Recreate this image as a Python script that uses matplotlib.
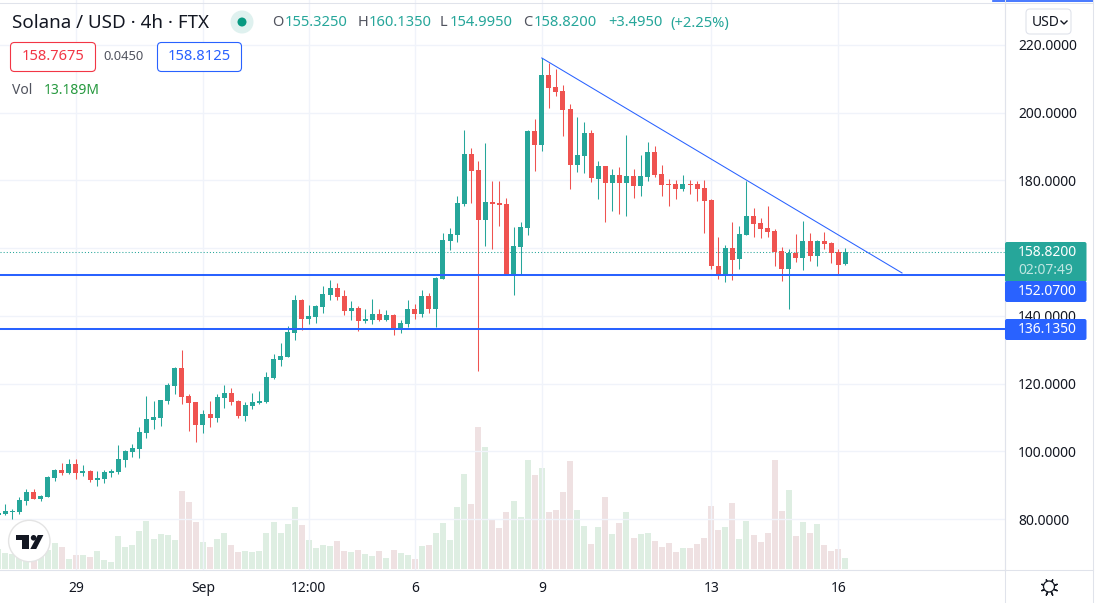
import matplotlib
matplotlib.use("Agg")
import matplotlib.pyplot as plt
from matplotlib.patches import Circle, FancyBboxPatch, Polygon, Rectangle

plt.rcParams['font.family'] = ['Noto Sans', 'DejaVu Sans']

# candles, 4h, oldest first
opens = [81.16, 81.46, 82.05, 82.15, 85.39, 88.05, 86.08, 86.57, 92.18, 94.54,
         93.66, 96.32, 93.66, 94.25, 91.59, 91.89, 93.66, 93.95, 97.50, 99.86,
         100.74, 105.47, 109.30, 109.89, 114.91, 119.34, 124.65, 116.39, 114.62, 107.83,
         111.08, 109.89, 115.80, 117.27, 114.91, 110.48, 113.44, 114.32, 114.62, 121.60,
         127.01, 127.90, 134.98, 144.72, 139.11, 139.71, 142.66, 146.20, 148.27, 145.90,
         141.48, 142.36, 138.52, 138.82, 140.59, 138.82, 140.30, 136.16, 137.64, 142.07,
         140.59, 145.90, 142.07, 150.92, 162.14, 163.91, 173.06, 187.82, 183.10, 168.34,
         173.65, 173.36, 173.06, 152.10, 160.37, 165.98, 194.61, 190.48, 211.14, 207.60,
         206.42, 201.10, 184.57, 187.23, 194.02, 180.44, 184.28, 179.26, 181.62, 179.26,
         181.32, 178.37, 181.03, 188.41, 181.92, 178.96, 178.96, 177.49, 178.96, 178.96,
         177.79, 174.24, 154.76, 152.40, 160.07, 156.83, 163.91, 169.52, 167.45, 165.98,
         165.09, 159.19, 153.87, 158.60, 157.12, 162.14, 157.71, 162.14, 161.55, 158.89,
         155.33]
closes = [81.95, 82.44, 82.34, 85.69, 88.05, 86.08, 86.87, 92.48, 94.54, 93.66,
          96.32, 93.66, 94.25, 91.59, 92.18, 93.95, 94.25, 97.79, 100.15, 101.04,
          105.76, 109.60, 110.19, 115.21, 119.64, 124.65, 116.09, 114.32, 107.83, 111.08,
          109.89, 116.09, 117.27, 114.62, 110.48, 113.73, 114.62, 114.91, 122.00, 127.31,
          128.19, 135.28, 144.72, 139.11, 140.00, 142.95, 146.49, 148.27, 145.61, 141.48,
          142.36, 138.52, 139.11, 140.59, 138.82, 140.30, 136.16, 137.93, 142.07, 140.59,
          145.90, 142.07, 151.22, 162.44, 164.21, 173.36, 187.82, 182.80, 168.34, 173.65,
          173.06, 172.77, 152.10, 160.66, 166.27, 194.61, 190.48, 211.14, 207.30, 206.12,
          200.81, 184.57, 187.52, 194.02, 180.73, 184.28, 179.26, 181.62, 179.26, 181.32,
          178.37, 181.32, 188.41, 181.62, 178.67, 178.67, 177.49, 178.96, 178.67, 177.49,
          173.95, 154.76, 152.40, 160.07, 156.53, 164.21, 169.52, 167.16, 165.68, 164.80,
          158.89, 153.87, 158.60, 157.12, 162.14, 157.71, 162.14, 161.26, 158.60, 155.06,
          158.82]
highs = [82.54, 84.51, 82.93, 86.48, 88.94, 88.94, 87.16, 92.77, 94.84, 96.61,
         97.79, 97.79, 96.02, 94.54, 94.25, 94.54, 94.84, 101.92, 100.45, 102.22,
         107.24, 116.39, 114.91, 115.21, 120.23, 124.95, 129.97, 116.98, 114.62, 112.26,
         114.91, 116.98, 119.64, 118.75, 115.21, 114.62, 117.27, 117.86, 123.47, 128.78,
         132.03, 137.05, 146.20, 145.02, 143.25, 143.25, 148.86, 150.63, 149.74, 147.68,
         144.43, 142.95, 142.07, 145.02, 142.07, 141.77, 140.59, 138.82, 144.72, 143.54,
         147.68, 146.79, 151.51, 164.50, 165.98, 175.42, 194.91, 189.59, 185.76, 191.07,
         179.85, 179.85, 174.83, 166.27, 167.75, 194.91, 198.15, 216.16, 214.68, 212.91,
         208.19, 202.58, 198.74, 197.27, 194.90, 185.75, 184.28, 183.39, 183.98, 193.43,
         183.39, 187.52, 191.36, 190.18, 184.57, 180.44, 180.14, 181.62, 180.14, 179.85,
         180.15, 174.54, 163.32, 160.96, 167.75, 166.57, 179.85, 171.88, 168.93, 172.47,
         165.68, 160.37, 159.78, 164.21, 168.04, 164.50, 162.44, 164.80, 161.85, 159.78,
         160.14]
lows = [80.77, 81.26, 80.08, 81.65, 84.21, 86.08, 85.39, 86.57, 91.30, 93.07,
        93.36, 91.89, 92.77, 91.00, 89.82, 90.71, 92.48, 93.36, 95.43, 98.38,
        98.09, 103.99, 106.65, 107.53, 114.03, 116.98, 114.03, 106.06, 102.81, 105.47,
        107.24, 108.71, 112.85, 113.73, 109.89, 109.01, 112.55, 114.03, 114.32, 121.30,
        125.24, 127.90, 132.92, 135.87, 137.64, 137.93, 140.89, 144.72, 144.72, 140.30,
        138.82, 135.57, 137.93, 137.64, 138.52, 138.52, 134.39, 134.98, 136.75, 139.11,
        139.71, 140.89, 136.75, 150.92, 159.48, 161.85, 172.47, 173.36, 123.76, 160.66,
        159.78, 166.57, 152.10, 146.20, 152.10, 163.91, 182.80, 188.70, 201.40, 204.94,
        193.13, 177.49, 182.50, 182.21, 179.55, 174.54, 167.75, 171.00, 170.11, 169.52,
        174.83, 175.42, 179.85, 181.03, 175.42, 172.47, 174.54, 176.90, 176.01, 173.95,
        164.50, 153.87, 150.92, 150.04, 150.63, 153.87, 163.91, 163.32, 163.03, 163.32,
        154.76, 150.33, 142.07, 155.94, 153.58, 156.24, 154.76, 159.78, 155.65, 152.10,
        155.00]
# volume in millions
volumes = [23.6, 18.8, 18.0, 24.0, 22.0, 14.0, 16.0, 22.8, 31.2, 26.4,
           12.0, 16.8, 16.8, 14.4, 21.6, 10.8, 8.4, 39.6, 26.4, 28.8,
           45.6, 57.6, 36.0, 42.0, 40.8, 34.8, 93.6, 80.4, 56.4, 32.4,
           26.4, 36.0, 43.2, 28.8, 20.4, 21.6, 20.4, 21.6, 43.2, 56.4,
           43.2, 54.0, 74.4, 52.8, 34.8, 25.2, 28.8, 27.6, 33.6, 21.6,
           20.4, 22.8, 18.0, 15.6, 21.6, 13.2, 22.8, 19.2, 16.8, 12.0,
           27.6, 28.8, 43.2, 55.2, 34.8, 74.4, 114.0, 78.0, 170.4, 146.4,
           58.8, 49.2, 68.4, 81.6, 62.4, 130.8, 112.8, 121.2, 68.4, 70.8,
           92.4, 129.6, 70.8, 51.6, 30.0, 50.4, 86.4, 42.0, 55.2, 68.4,
           37.2, 42.0, 43.2, 33.6, 26.4, 31.2, 20.4, 25.2, 25.2, 30.0,
           37.2, 75.6, 46.8, 50.4, 79.2, 36.0, 57.6, 40.8, 32.4, 43.2,
           130.8, 69.6, 94.8, 39.6, 56.4, 43.2, 54.0, 28.8, 21.6, 24.0,
           13.2]

tick_pos = [11, 29, 44, 59, 77, 101, 119]
tick_labels = ['29', 'Sep', '12:00', '6', '9', '13', '16']
price_ticks = [80, 100, 120, 140, 160, 180, 200, 220]
# the 160 label sits behind the last price tag in the original, only its gridline shows
hidden_price_labels = [160]

support_levels = [152.07, 136.135]
last_close = 158.82
trend_x = [77, 128.03]
trend_y = [216.16, 152.7]

green = '#26a69a'
red = '#ef5350'
blue = '#2962ff'
grid_c = '#f0f3fa'
text_c = '#131722'

W, H = 1095, 603
PANE_R, PANE_B = 1005, 570
fig = plt.figure(figsize=(W / 100, H / 100), dpi=100, facecolor='white')

x_per_bar = 7.059
xlim = (1 - 5.3 / x_per_bar, 1 + (PANE_R - 5.3) / x_per_bar)

# volume pane sits under the candles
ax_v = fig.add_axes([0, (H - 569) / H, PANE_R / W, 569 / H])
vol_colors = ['#deeee2' if c >= o else '#efe1e2' for o, c in zip(opens, closes)]
ax_v.bar(range(len(volumes)), volumes, width=0.85, color=vol_colors, linewidth=0)
ax_v.set_xlim(xlim)
ax_v.set_ylim(0, 682.8)
ax_v.axis('off')

ax = fig.add_axes([0, (H - PANE_B) / H, PANE_R / W, PANE_B / H])
ax.patch.set_alpha(0)
ax.set_xlim(xlim)
ax.set_ylim(65.0, 233.28)
for s in ['top', 'left']:
    ax.spines[s].set_visible(False)
ax.spines['right'].set_color('#e0e3eb')
ax.spines['bottom'].set_color('#e0e3eb')
ax.yaxis.tick_right()
ax.set_yticks(price_ticks)
ax.set_yticklabels(['' if p in hidden_price_labels else f'{p:.4f}' for p in price_ticks])
ax.set_xticks(tick_pos)
ax.set_xticklabels(tick_labels)
ax.tick_params(axis='y', length=0, pad=9.5, labelsize=10, labelcolor=text_c)
ax.tick_params(axis='x', length=0, pad=8, labelsize=10, labelcolor=text_c)
ax.get_xticklabels()[1].set_fontweight('semibold')
ax.grid(True, color=grid_c, linewidth=1.0)
ax.set_axisbelow(True)

x = list(range(len(opens)))
colors = [green if c >= o else red for o, c in zip(opens, closes)]
ax.axhline(last_close, color=green, linewidth=0.75, linestyle=(0, (1, 2)), zorder=1.5)
ax.vlines(x, lows, highs, color=colors, linewidth=0.75, zorder=2)
bottoms = [min(o, c) for o, c in zip(opens, closes)]
heights = [max(abs(c - o), 0.3) for o, c in zip(opens, closes)]
ax.bar(x, heights, bottom=bottoms, width=0.71, color=colors, linewidth=0, zorder=2.5)
for level in support_levels:
    ax.axhline(level, color=blue, linewidth=1.45, zorder=3)
ax.plot(trend_x, trend_y, color=blue, linewidth=0.75, zorder=3)

# overlay for the toolbar bits, in pixels from the top left
ui = fig.add_axes([0, 0, 1, 1])
ui.set_xlim(0, W)
ui.set_ylim(H, 0)
ui.axis('off')
ui.patch.set_alpha(0)


def box(x0, y0, x1, y1, **kw):
    p = FancyBboxPatch((x0, y0), x1 - x0, y1 - y0, boxstyle='round,pad=0,rounding_size=4', **kw)
    ui.add_patch(p)


def label(x0, y0, s, color=text_c, size=10, ha='left', **kw):
    ui.text(x0, y0, s, color=color, fontsize=size, ha=ha, va='center', **kw)


ui.plot([0, 1093], [2.5, 2.5], color='#e0e3eb', linewidth=0.75)
ui.plot([993, 1093], [0.7, 0.7], color=blue, linewidth=1.2)
ui.plot([PANE_R, PANE_R], [0, H], color='#e0e3eb', linewidth=0.75)
ui.plot([PANE_R, 1093], [570, 570], color='#e0e3eb', linewidth=0.75)
ui.plot([1093, 1093], [0, H], color='#e0e3eb', linewidth=0.75)

# header
label(12, 22.5, 'Solana / USD \u00b7 4h \u00b7 FTX', size=13.5)
ui.add_patch(Circle((242, 22), 11.5, color='#dff1ef', linewidth=0))
ui.add_patch(Circle((242, 22), 4.5, color='#089981', linewidth=0))
for px, s in [(272, 'O'), (358, 'H'), (440, 'L'), (523, 'C')]:
    label(px, 23, s, color='#50535e', size=10.5)
for px, s in [(285, '155.3250'), (369, '160.1350'), (450, '154.9950'), (534, '158.8200'),
              (608, '+3.4950'), (670, '(+2.25%)')]:
    label(px, 23, s, color=green, size=10.6)

box(10.5, 42.5, 95.5, 71.5, facecolor='white', edgecolor='#f23645', linewidth=0.8)
label(53, 57, '158.7675', color='#f23645', size=10.6, ha='center')
label(123, 57, '0.0450', color='#50535e', size=9.3, ha='center')
box(157.5, 42.5, 241.5, 71.5, facecolor='white', edgecolor=blue, linewidth=0.8)
label(199.5, 57, '158.8125', color=blue, size=10.6, ha='center')
label(12, 91, 'Vol', color='#50535e', size=10)
label(44, 91, '13.189M', color='#26993f', size=10)

# USD button
box(1026, 9, 1071, 34, facecolor='white', edgecolor='#e0e3eb', linewidth=0.8)
label(1032, 22, 'USD', size=10)
ui.plot([1061, 1064, 1067], [21, 24, 21], color=text_c, linewidth=1)

# price tags on the scale
def tag(y0, y1, color):
    ui.add_patch(FancyBboxPatch((PANE_R, y0), 81.5, y1 - y0, boxstyle='round,pad=0,rounding_size=2',
                                facecolor=color, edgecolor='none', zorder=4))


tag(242, 282, green)
tag(281, 302, blue)
tag(319, 340, blue)
ui.text(1018, 253, '158.8200', color='white', fontsize=10, va='center', zorder=5)
ui.text(1018, 271, '02:07:49', color='#bfe6e1', fontsize=10, va='center', zorder=5)
ui.text(1018, 291.5, '152.0700', color='white', fontsize=10, va='center', zorder=5)
ui.text(1018, 329.5, '136.1350', color='white', fontsize=10, va='center', zorder=5)

# logo
ui.add_patch(Circle((29.3, 541), 20.7, facecolor='white', edgecolor='#e4e4e4', linewidth=1))
ui.add_patch(Polygon([(16, 535), (29.3, 535), (29.3, 549), (21.7, 549), (21.7, 540), (16, 540)],
                     closed=True, color=text_c, linewidth=0))
ui.add_patch(Circle((33.6, 537.8), 2.8, color=text_c, linewidth=0))
ui.add_patch(Polygon([(37.8, 535), (43.4, 535), (36.2, 549), (30.3, 549)], closed=True,
                     color=text_c, linewidth=0))

# settings gear
ui.plot([1049], [586.5], marker=(8, 2, 22.5), markersize=12.5, color=text_c, markeredgewidth=1, zorder=1)
ui.add_patch(Circle((1049, 586.5), 5.5, facecolor='white', edgecolor=text_c, linewidth=0.9, zorder=2))

fig.savefig('out.png', dpi=100, facecolor='white')
